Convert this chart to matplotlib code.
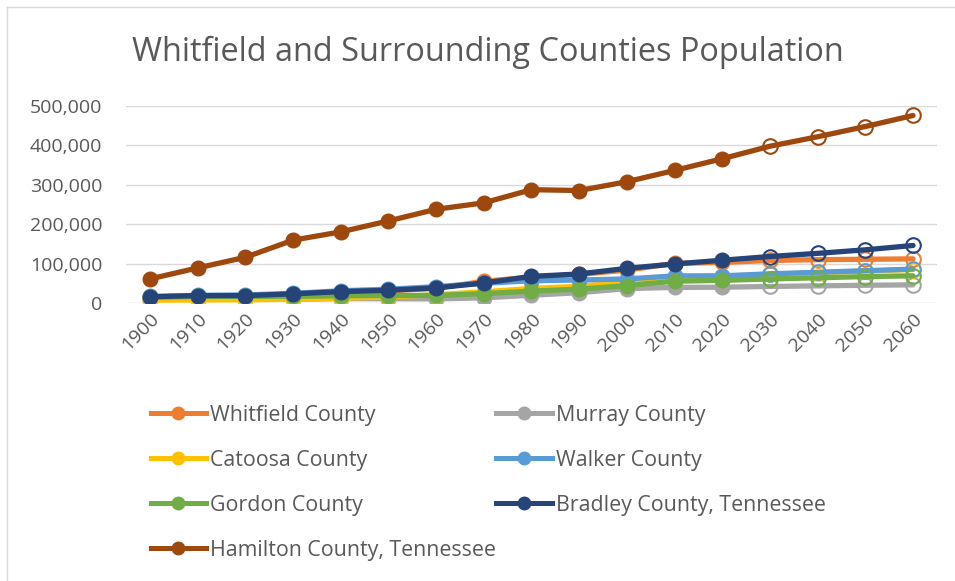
import matplotlib.pyplot as plt
from matplotlib.lines import Line2D
from matplotlib.ticker import FuncFormatter

years = ['1900', '1910', '1920', '1930', '1940', '1950', '1960', '1970', '1980',
         '1990', '2000', '2010', '2020', '2030', '2040', '2050', '2060']
n_hist = 13  # 1900-2020 census, 2030+ projected

whitfield = [14500, 17500, 17500, 21500, 27500, 31000, 37000, 55000, 65800,
             72500, 83500, 100500, 102900, 108000, 110000, 111000, 112000]
murray = [8600, 9800, 9500, 9200, 11100, 10700, 10400, 13000, 19700,
          26100, 36500, 39600, 40000, 42000, 43500, 45000, 46000]
catoosa = [7200, 7700, 8000, 9400, 12200, 15100, 21100, 28300, 37000,
           42500, 53300, 63900, 67900, 73000, 77000, 81000, 85000]
walker = [16500, 19500, 20500, 24500, 31000, 35000, 41500, 50000, 56500,
          58300, 61100, 68800, 69000, 74000, 78000, 82000, 86000]
gordon = [14100, 16700, 16900, 16800, 18400, 18900, 19200, 23600, 30100,
          35100, 44100, 55200, 57500, 61000, 64000, 67000, 69000]
bradley = [15800, 18700, 18700, 23100, 28900, 32300, 38300, 50700, 67500,
           73700, 88000, 99000, 108600, 118000, 126000, 135000, 146000]
hamilton = [61000, 89000, 116000, 159500, 180500, 208300, 237900, 254200, 287700,
            285500, 307900, 336500, 366200, 398000, 422000, 448000, 476000]

names = ['Whitfield County', 'Murray County', 'Catoosa County', 'Walker County',
         'Gordon County', 'Bradley County, Tennessee', 'Hamilton County, Tennessee']
series = [whitfield, murray, catoosa, walker, gordon, bradley, hamilton]
colors = ['#ED7D31', '#A5A5A5', '#FFC000', '#5B9BD5', '#70AD47', '#264478', '#9E480E']

txt = '#595959'
plt.rcParams['font.family'] = ['Open Sans', 'DejaVu Sans']

fig = plt.figure(figsize=(9.55, 5.81), dpi=100)
ax = fig.add_axes([0.132, 0.4785, 0.849, 0.339])

handles = []
for i, (name, vals, c) in enumerate(zip(names, series, colors)):
    z = 3 + i
    ax.plot(years, vals, color=c, lw=3.8, zorder=z, solid_capstyle='round')
    ax.plot(years[:n_hist], vals[:n_hist], ls='none', marker='o', ms=10.5,
            color=c, zorder=z)
    ax.plot(years[n_hist:], vals[n_hist:], ls='none', marker='o', ms=10.5,
            mfc='none', mec=c, mew=1.5, zorder=z)
    handles.append(Line2D([], [], color=c, lw=3.6, marker='o', ms=9, label=name))

ax.set_xlim(-0.5, len(years) - 0.5)
ax.set_ylim(0, 500000)
ax.set_yticks(range(0, 500001, 100000))
ax.yaxis.set_major_formatter(FuncFormatter(lambda v, p: f'{int(v):,}'))
ax.grid(axis='y', color='#D9D9D9', lw=1)
ax.set_axisbelow(True)
for s in ax.spines.values():
    s.set_visible(False)
ax.tick_params(length=0, colors=txt, labelsize=14)
ax.tick_params(axis='y', pad=17)
ax.tick_params(axis='x', pad=5)
plt.setp(ax.get_xticklabels(), rotation=45, ha='right', rotation_mode='anchor')

fig.text(0.511, 0.91, 'Whitfield and Surrounding Counties Population',
         ha='center', va='center', fontsize=23.4, color=txt)

# legend filled row by row, like the original
order = [0, 2, 4, 6, 1, 3, 5]
leg = fig.legend([handles[i] for i in order], [names[i] for i in order],
                 loc='upper left', bbox_to_anchor=(0.1576, 0.303), ncol=2,
                 frameon=False, fontsize=15.4, handlelength=2.6, handletextpad=0.2,
                 columnspacing=0.0, labelspacing=1.12, borderaxespad=0,
                 borderpad=0)
for t in leg.get_texts():
    t.set_color(txt)

# chart area border
fig.add_artist(Line2D([0.0073, 0.0073], [0, 0.988], color='#D9D9D9', lw=1))
fig.add_artist(Line2D([0.0073, 1], [0.988, 0.988], color='#D9D9D9', lw=1))

fig.savefig('out.png', dpi=100)
